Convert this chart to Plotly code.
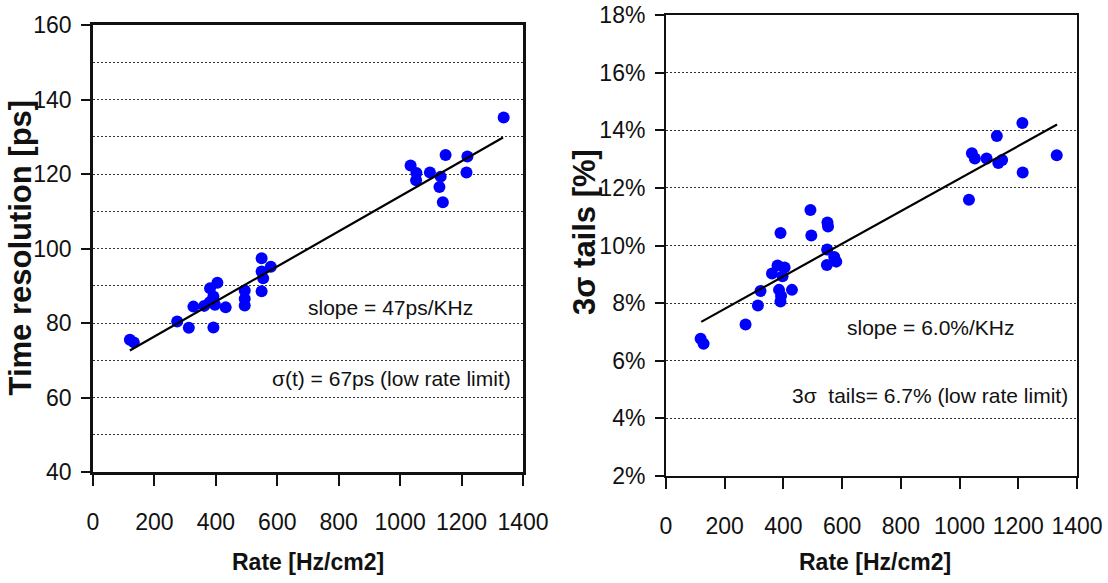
import plotly.graph_objects as go

W, H = 1108, 583

# ---------------- data: left panel (time resolution) ----------------
rate_left = [120, 133, 274, 312, 327, 362, 392, 381, 405, 392, 397, 380, 432,
             494, 494, 494, 549, 549, 579, 549, 554,
             1034, 1053, 1052, 1097, 1132, 1128, 1139, 1148, 1219, 1216, 1337]
time_res = [75.5, 74.8, 80.4, 78.7, 84.4, 84.6, 78.8, 89.3, 90.8, 87.1, 84.9, 85.6, 84.2,
            88.7, 86.5, 84.7, 97.4, 93.8, 95.1, 88.5, 92.0,
            122.3, 120.3, 118.3, 120.4, 119.3, 116.5, 112.4, 125.1, 124.7, 120.4, 135.2]
fit_left_x = [120, 1335]
fit_left_y = [72.6, 129.8]

# ---------------- data: right panel (3 sigma tails, %) ----------------
rate_right = [118, 128, 271, 313, 322, 361, 380, 404, 390, 385, 390, 392, 429, 397,
              492, 495, 550, 552, 549, 573, 580, 548,
              1032, 1042, 1052, 1092, 1127, 1132, 1145, 1214, 1215, 1331]
tails = [6.76, 6.59, 7.26, 7.92, 8.42, 9.03, 9.31, 9.24, 10.43, 8.46, 8.06, 8.25, 8.46, 8.93,
         11.23, 10.35, 10.80, 10.66, 9.86, 9.60, 9.44, 9.32,
         11.59, 13.20, 13.02, 13.02, 13.80, 12.86, 12.97, 14.25, 12.53, 13.13]
fit_right_x = [120, 1332]
fit_right_y = [7.35, 14.2]

x_ticks = [0, 200, 400, 600, 800, 1000, 1200, 1400]
left_y_ticks = [40, 60, 80, 100, 120, 140, 160]
right_y_ticks = [2, 4, 6, 8, 10, 12, 14, 16, 18]
right_y_labels = [f"{v}%" for v in right_y_ticks]

# ---------------- layout geometry (pixels) ----------------
L_x0, L_x1, L_y0, L_y1 = 93, 523, 25, 472
R_x0, R_x1, R_y0, R_y1 = 666, 1077, 15, 476

def xd(a, b):
    return [a / W, b / W]

def yd(top, bottom):
    return [1 - bottom / H, 1 - top / H]

TICKFONT = dict(family="Liberation Sans, Arial, sans-serif", size=23, color="#111")
TXT = dict(family="Liberation Sans, Arial, sans-serif", size=21, color="#111")
TITLE = dict(family="Liberation Sans, Arial, sans-serif", size=31, color="#111")
GRID = "#333"
DOT = "2px,2px"

fig = go.Figure()
marker = dict(color="#0000ff", size=12, line=dict(width=0))

fig.add_trace(go.Scatter(x=rate_left, y=time_res, mode="markers", marker=marker,
                         xaxis="x", yaxis="y", showlegend=False))
fig.add_trace(go.Scatter(x=fit_left_x, y=fit_left_y, mode="lines",
                         line=dict(color="black", width=2.2),
                         xaxis="x", yaxis="y", showlegend=False))
fig.add_trace(go.Scatter(x=rate_right, y=tails, mode="markers", marker=marker,
                         xaxis="x2", yaxis="y2", showlegend=False))
fig.add_trace(go.Scatter(x=fit_right_x, y=fit_right_y, mode="lines",
                         line=dict(color="black", width=2.2),
                         xaxis="x2", yaxis="y2", showlegend=False))

xcommon = dict(range=[0, 1400.01], tickvals=x_ticks, ticks="outside", ticklen=11, tickwidth=2,
               tickcolor="#111", showline=True, mirror=True, linecolor="#111",
               showgrid=False, zeroline=False, tickfont=TICKFONT, automargin=False,
               tickangle=0, ticklabelstandoff=17)

fig.update_layout(
    width=W, height=H,
    margin=dict(l=0, r=0, t=0, b=0),
    paper_bgcolor="white", plot_bgcolor="white",
    xaxis=dict(domain=xd(L_x0, L_x1), anchor="y", linewidth=2.5, **xcommon),
    yaxis=dict(domain=yd(L_y0, L_y1), anchor="x", range=[40, 160.01], tickvals=left_y_ticks,
               ticks="outside", ticklen=9, tickwidth=2, tickcolor="#111",
               showline=True, mirror=True, linecolor="#111", linewidth=2.5,
               showgrid=True, gridcolor=GRID, griddash=DOT, gridwidth=1,
               minor=dict(dtick=10, tick0=0, showgrid=True, gridcolor=GRID, griddash=DOT,
                          gridwidth=1, ticks=""),
               zeroline=False, tickfont=TICKFONT, automargin=False, ticklabelstandoff=5),
    xaxis2=dict(domain=xd(R_x0, R_x1), anchor="y2", linewidth=2, **xcommon),
    yaxis2=dict(domain=yd(R_y0, R_y1), anchor="x2", range=[1.999, 18.001],
                tickvals=right_y_ticks, ticktext=right_y_labels,
                ticks="outside", ticklen=9, tickwidth=2, tickcolor="#111",
                showline=True, mirror=True, linecolor="#111", linewidth=2,
                showgrid=True, gridcolor=GRID, griddash=DOT, gridwidth=1,
                zeroline=False, tickfont=TICKFONT, automargin=False, ticklabelstandoff=5),
)

annotations = [
    dict(text="slope = 47ps/KHz", x=970, y=84.3, xref="x", yref="y",
         showarrow=False, font=TXT, xanchor="center", yanchor="middle"),
    dict(text="σ(t) = 67ps (low rate limit)", x=973, y=65.2, xref="x", yref="y",
         showarrow=False, font=TXT, xanchor="center", yanchor="middle"),
    dict(text="slope = 6.0%/KHz", x=902, y=7.17, xref="x2", yref="y2",
         showarrow=False, font=TXT, xanchor="center", yanchor="middle"),
    dict(text="3σ\u00a0 tails= 6.7% (low rate limit)", x=899, y=4.78, xref="x2", yref="y2",
         showarrow=False, font=TXT, xanchor="center", yanchor="middle"),
    # axis titles
    dict(text="<b>Time resolution [ps]</b>", x=19.5 / W, y=1 - 248 / H, xref="paper", yref="paper",
         showarrow=False, font=TITLE, textangle=-90, xanchor="center", yanchor="middle"),
    dict(text="<b>Rate [Hz/cm2]</b>", x=308 / W, y=1 - 562 / H, xref="paper", yref="paper",
         showarrow=False, font=dict(TITLE, size=23), xanchor="center", yanchor="middle"),
    dict(text="<b>3σ tails [%]</b>", x=584 / W, y=1 - 232 / H, xref="paper", yref="paper",
         showarrow=False, font=TITLE, textangle=-90, xanchor="center", yanchor="middle"),
    dict(text="<b>Rate [Hz/cm2]</b>", x=875 / W, y=1 - 562 / H, xref="paper", yref="paper",
         showarrow=False, font=dict(TITLE, size=23), xanchor="center", yanchor="middle"),
]
fig.update_layout(annotations=annotations)

fig.write_html("out.html", config={"displayModeBar": False},
               post_script="document.body.style.margin='0';document.body.style.padding='0';")
